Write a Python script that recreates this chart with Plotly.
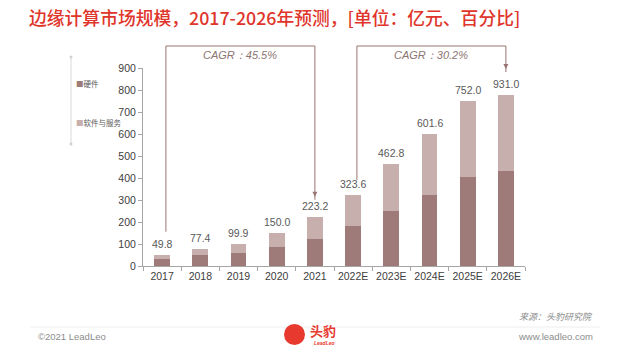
import plotly.graph_objects as go

# ---------------- data ----------------
categories = ["2017", "2018", "2019", "2020", "2021", "2022E", "2023E", "2024E", "2025E", "2026E"]
hardware = [33, 52, 60, 87, 124, 180, 252, 325, 405, 431]
software = [17, 25, 40, 63, 99, 144, 211, 277, 347, 348]
total_labels = ["49.8", "77.4", "99.9", "150.0", "223.2", "323.6", "462.8", "601.6", "752.0", "931.0"]
series_names = ["硬件", "软件与服务"]
cagr_labels = ["CAGR：45.5%", "CAGR：30.2%"]
y_ticks = [0, 100, 200, 300, 400, 500, 600, 700, 800, 900]

# ---------------- style ----------------
W, H = 624, 351
L, R, T, B = 143, 99, 68, 85
DARK = "#9e7b78"
LIGHT = "#c6afad"
AXIS = "#a6a6a6"
RED = "#e0352b"
MAUVE = "#9a7471"
CJK = "Noto Sans CJK SC"
LAT = "Liberation Sans"


def px(x):
    return (x - L) / (W - L - R)


def py(y):
    return (H - B - y) / (H - T - B)


fig = go.Figure()
fig.add_trace(go.Bar(x=categories, y=hardware, name=series_names[0],
                     marker=dict(color=DARK, line=dict(width=0)), hoverinfo="skip"))
fig.add_trace(go.Bar(x=categories, y=software, name=series_names[1],
                     marker=dict(color=LIGHT, line=dict(width=0)), hoverinfo="skip"))

annotations = []
shapes = []

# value labels above bars
for i, c in enumerate(categories):
    annotations.append(dict(x=i, y=hardware[i] + software[i], xref="x", yref="y",
                            text=total_labels[i], showarrow=False, yanchor="middle",
                            yshift=11, font=dict(family=LAT, size=10.5, color="#595959")))

# CAGR brackets
brackets = [(0, 4, 0.1, 231.7, 196.7), (5, 9, 0.1, 180.0, 69.0)]
top_y = 46.0
for k, (i0, i1, off, y_start, y_tip) in enumerate(brackets):
    xa = i0 + off
    xb = i1
    shapes.append(dict(type="line", xref="x", yref="paper", x0=xa, x1=xa,
                       y0=py(y_start), y1=py(top_y), line=dict(color=MAUVE, width=1)))
    shapes.append(dict(type="line", xref="x", yref="paper", x0=xa, x1=xb,
                       y0=py(top_y), y1=py(top_y), line=dict(color=MAUVE, width=1)))
    shapes.append(dict(type="line", xref="x", yref="paper", x0=xb, x1=xb,
                       y0=py(top_y), y1=py(y_tip + 3), line=dict(color=MAUVE, width=1)))
    annotations.append(dict(x=xb, y=py(y_tip), xref="x", yref="paper", text="",
                            showarrow=True, ax=0, ay=-6, arrowhead=2, arrowsize=1,
                            arrowwidth=1, arrowcolor=MAUVE, standoff=0))
    annotations.append(dict(x=(xa + xb) / 2, y=py(55), xref="x", yref="paper",
                            yanchor="middle",
                            text="<i>" + cagr_labels[k] + "</i>", showarrow=False,
                            font=dict(family=LAT, size=11, color="#8c7472")))

# custom legend on the left
shapes.append(dict(type="line", xref="paper", yref="paper", x0=px(71), x1=px(71),
                   y0=py(57), y1=py(144), line=dict(color="#d9d9d9", width=1)))
for yy in (57, 144):
    shapes.append(dict(type="circle", xref="paper", yref="paper",
                       x0=px(69.5), x1=px(72.5), y0=py(yy - 1.5), y1=py(yy + 1.5),
                       fillcolor="#d0d0d0", line=dict(width=0)))
for name, col, yy in ((series_names[0], DARK, 83.5), (series_names[1], LIGHT, 122)):
    annotations.append(dict(x=px(74), y=py(yy), xref="paper", yref="paper",
                            xanchor="left", yanchor="middle", showarrow=False,
                            text=f"<span style='color:{col}'>■</span>{name}",
                            font=dict(family=CJK, size=7.5, color="#595959")))

# title
annotations.append(dict(x=px(27), y=py(17), xref="paper", yref="paper", xanchor="left",
                        yanchor="middle", showarrow=False,
                        text="边缘计算市场规模，2017-2026年预测，[单位：亿元、百分比]",
                        font=dict(family=CJK, size=17.8, color=RED, weight=500)))

# footer
shapes.append(dict(type="line", xref="paper", yref="paper", x0=px(30), x1=px(600),
                   y0=py(327), y1=py(327), line=dict(color="#eeeeee", width=1)))
annotations.append(dict(x=px(595), y=py(316), xref="paper", yref="paper", xanchor="right",
                        yanchor="middle", showarrow=False, text="<i>来源：头豹研究院</i>",
                        font=dict(family=CJK, size=9, color="#8c8c8c")))
annotations.append(dict(x=px(595), y=py(336), xref="paper", yref="paper", xanchor="right",
                        yanchor="middle", showarrow=False, text="www.leadleo.com",
                        font=dict(family=LAT, size=9.5, color="#8c8c8c")))
annotations.append(dict(x=px(36), y=py(336), xref="paper", yref="paper", xanchor="left",
                        yanchor="middle", showarrow=False, text="©2021 LeadLeo",
                        font=dict(family=LAT, size=9.5, color="#8c8c8c")))
# logo
shapes.append(dict(type="circle", xref="paper", yref="paper", x0=px(284), x1=px(305),
                   y0=py(345), y1=py(324), fillcolor="#e8392e", line=dict(width=0)))
annotations.append(dict(x=px(308), y=py(330), xref="paper", yref="paper", xanchor="left",
                        yanchor="middle", showarrow=False, text="<b>头豹</b>",
                        font=dict(family=CJK, size=13, color="#e8392e")))
annotations.append(dict(x=px(312), y=py(343), xref="paper", yref="paper", xanchor="left",
                        yanchor="middle", showarrow=False, text="<b><i>LeadLeo</i></b>",
                        font=dict(family=LAT, size=5, color="#e8392e")))

fig.update_layout(
    width=W, height=H,
    margin=dict(l=L, r=R, t=T, b=B, pad=0),
    paper_bgcolor="white", plot_bgcolor="white",
    barmode="stack", bargap=0.59,
    showlegend=False,
    shapes=shapes, annotations=annotations,
    xaxis=dict(type="category", range=[-0.5, 9.5], autorange=False, showline=True,
               linecolor=AXIS, linewidth=1, tickangle=0,
               ticks="outside", tickson="boundaries", ticklen=4, tickcolor=AXIS,
               showgrid=False, tickfont=dict(family=LAT, size=10.5, color="#404040")),
    yaxis=dict(range=[0, 900], autorange=False, tickvals=y_ticks, showline=True,
               linecolor=AXIS, linewidth=1, ticks="outside", ticklen=4, tickcolor=AXIS,
               showgrid=False, zeroline=False,
               tickfont=dict(family=LAT, size=10.5, color="#404040")),
)

fig.write_html("out.html")
